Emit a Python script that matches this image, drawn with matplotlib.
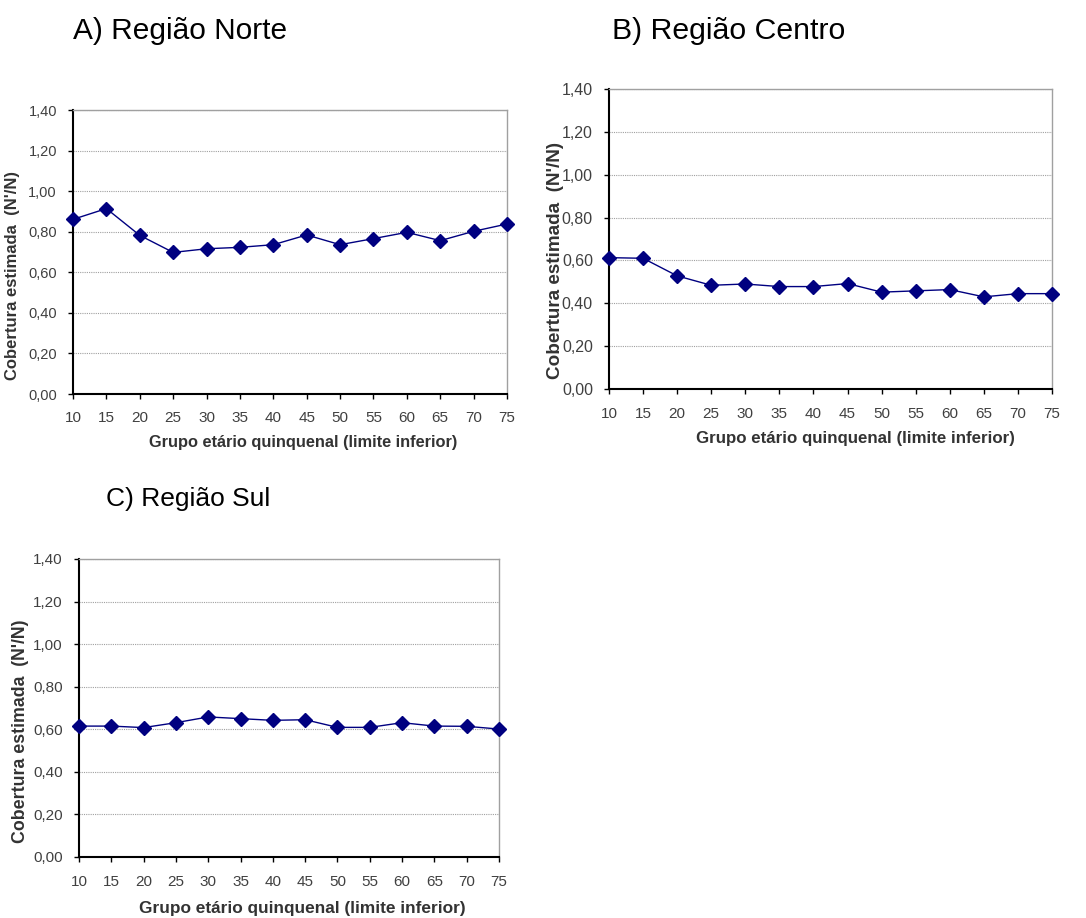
import matplotlib
matplotlib.use("Agg")
import matplotlib.pyplot as plt
from matplotlib.ticker import FuncFormatter

plt.rcParams['font.family'] = ['Liberation Sans', 'DejaVu Sans']

# === 資料 ===
idades = [10, 15, 20, 25, 30, 35, 40, 45, 50, 55, 60, 65, 70, 75]
norte = [0.861, 0.914, 0.782, 0.698, 0.716, 0.723, 0.736, 0.784, 0.736, 0.766, 0.797, 0.756, 0.802, 0.838]
centro = [0.613, 0.610, 0.528, 0.484, 0.490, 0.478, 0.478, 0.492, 0.452, 0.458, 0.464, 0.430, 0.445, 0.445]
sul = [0.615, 0.615, 0.608, 0.631, 0.658, 0.650, 0.642, 0.645, 0.609, 0.609, 0.631, 0.615, 0.614, 0.601]
y_ticks = [0.0, 0.2, 0.4, 0.6, 0.8, 1.0, 1.2, 1.4]

titulos = ["A) Região Norte", "B) Região Centro", "C) Região Sul"]
xlabel = "Grupo etário quinquenal (limite inferior)"
ylabel = "Cobertura estimada  (N'/N)"

W, H = 1086, 918
fig = plt.figure(figsize=(W / 100, H / 100), dpi=100)

# 版面 (pixels): 軸框 (left, right, top, bottom)、標題、軸標籤位置與字級
paineis = [
    dict(box=(73, 507, 110, 394), tit=(73, 39, 21.5), xl=(303, 443, 11.8), yl=(13, 275, 12.0), yts=10.5),
    dict(box=(609, 1052, 89, 389), tit=(612, 39, 21.8), xl=(855, 439, 12.2), yl=(555, 260, 13.6), yts=11.5),
    dict(box=(79, 499, 559, 857), tit=(106, 506, 19.0), xl=(302, 908, 12.4), yl=(21, 731, 12.8), yts=11),
]
series = [norte, centro, sul]

fmt = FuncFormatter(lambda v, p: f"{v:.2f}".replace(".", ","))

for p, dados, titulo in zip(paineis, series, titulos):
    l, r, t, b = p['box']
    ax = fig.add_axes([l / W, 1 - b / H, (r - l) / W, (b - t) / H])
    ax.plot(idades, dados, color='#000080', lw=1.0, marker='D', ms=7,
            clip_on=False, zorder=3)
    ax.set_xlim(10, 75)
    ax.set_ylim(0, 1.4)
    ax.set_xticks(idades)
    ax.set_yticks(y_ticks)
    ax.yaxis.set_major_formatter(fmt)
    ax.grid(axis='y', color='#a0a0a0', linestyle=(0, (1, 1)), lw=0.8)
    ax.set_axisbelow(True)
    for s in ['left', 'bottom']:
        ax.spines[s].set_color('black')
        ax.spines[s].set_linewidth(1.5)
    for s in ['top', 'right']:
        ax.spines[s].set_color('#a0a0a0')
        ax.spines[s].set_linewidth(1.0)
    ax.tick_params(direction='out', length=3.6, width=1, colors='black',
                   labelcolor='#404040', labelsize=11)
    ax.tick_params(axis='x', pad=9)
    ax.tick_params(axis='y', pad=8, labelsize=p['yts'])

    # 軸標籤
    xx, xy, xs = p['xl']
    ax.set_xlabel(xlabel, fontsize=xs, fontweight='bold', color='#333333', va='center')
    ax.xaxis.set_label_coords((xx - l) / (r - l), (b - xy) / (b - t))
    yx, yy, ys = p['yl']
    ax.set_ylabel(ylabel, fontsize=ys, fontweight='bold', color='#333333', va='center')
    ax.yaxis.set_label_coords((yx - l) / (r - l), (b - yy) / (b - t))

    tx, ty, tsz = p['tit']
    fig.text(tx / W, 1 - ty / H, titulo, fontsize=tsz, ha='left', va='baseline')

plt.savefig("out.png", dpi=100)
plt.close()
